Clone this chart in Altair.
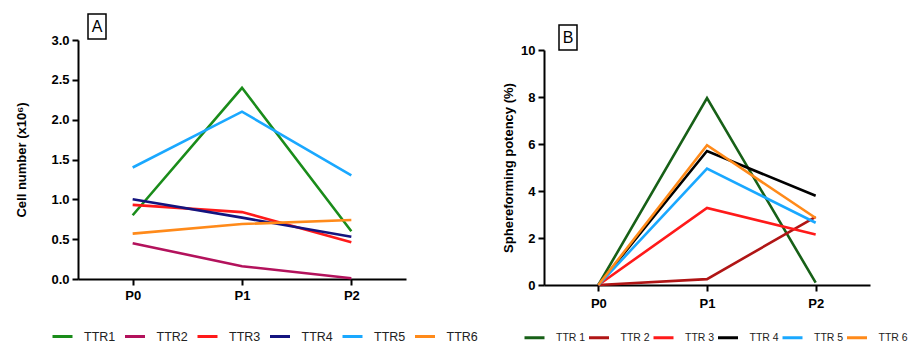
import altair as alt
import pandas as pd

passages = ["P0", "P1", "P2"]

# Panel A: cell number (x10^6)
series_a = ["TTR1", "TTR2", "TTR3", "TTR4", "TTR5", "TTR6"]
colors_a = ["#1a8c1a", "#b3125c", "#ff1a1a", "#14147f", "#1aa8ff", "#ff8a1a"]
ttr1_a = [0.80, 2.40, 0.60]
ttr2_a = [0.45, 0.16, 0.01]
ttr3_a = [0.93, 0.84, 0.46]
ttr4_a = [1.00, 0.77, 0.53]
ttr5_a = [1.40, 2.10, 1.30]
ttr6_a = [0.57, 0.69, 0.74]
yticks_a = [0.0, 0.5, 1.0, 1.5, 2.0, 2.5, 3.0]

# Panel B: sphereforming potency (%)
series_b = ["TTR 1", "TTR 2", "TTR 3", "TTR 4", "TTR 5", "TTR 6"]
colors_b = ["#176017", "#b01515", "#ff1a1a", "#000000", "#1aa8ff", "#ff8a1a"]
ttr1_b = [0.0, 7.95, 0.10]
ttr2_b = [0.0, 0.25, 2.90]
ttr3_b = [0.0, 3.28, 2.15]
ttr4_b = [0.0, 5.70, 3.80]
ttr5_b = [0.0, 4.95, 2.65]
ttr6_b = [0.0, 5.95, 2.85]
yticks_b = [0, 2, 4, 6, 8, 10]


def long_df(names, values):
    rows = []
    for name, vals in zip(names, values):
        for i, (p, v) in enumerate(zip(passages, vals)):
            rows.append({"series": name, "passage": p, "idx": i, "value": v})
    return pd.DataFrame(rows)


df_a = long_df(series_a, [ttr1_a, ttr2_a, ttr3_a, ttr4_a, ttr5_a, ttr6_a])
df_b = long_df(series_b, [ttr1_b, ttr2_b, ttr3_b, ttr4_b, ttr5_b, ttr6_b])

FONT = "Liberation Sans"


def panel(df, names, colors, yticks, ymax, ytitle, fmt, w, h, yrange, letter,
          box_x, box_y, legend_x, legend_y, label_size, col_pad, sym_size,
          title_x, xlabel_pad):
    lines = alt.Chart(df).mark_line(strokeWidth=2.6).encode(
        x=alt.X("passage:N", sort=passages,
                scale=alt.Scale(type="point", padding=0.5),
                axis=alt.Axis(title=None, labelAngle=0, labelPadding=xlabel_pad)),
        y=alt.Y("value:Q",
                scale=alt.Scale(domain=[0, ymax], nice=False, zero=True, range=yrange),
                axis=alt.Axis(values=yticks, format=fmt, title=ytitle,
                              titleX=title_x)),
        color=alt.Color("series:N",
                        scale=alt.Scale(domain=names, range=colors),
                        legend=alt.Legend(
                            orient="none", legendX=legend_x, legendY=legend_y,
                            direction="horizontal", title=None,
                            symbolType="stroke", symbolSize=sym_size,
                            symbolStrokeWidth=3, labelFont=FONT,
                            labelFontSize=label_size, labelColor="#222222",
                            labelOffset=10, columnPadding=col_pad, padding=0)),
        order=alt.Order("idx:Q"),
    )
    lab = pd.DataFrame({"label": [letter]})
    box = alt.Chart(lab).mark_rect(fill="white", stroke="black", strokeWidth=1.5).encode(
        x=alt.value(box_x), x2=alt.value(box_x + 18),
        y=alt.value(box_y), y2=alt.value(box_y + 25))
    txt = alt.Chart(lab).mark_text(font=FONT, fontSize=16, color="black").encode(
        text="label:N", x=alt.value(box_x + 9), y=alt.value(box_y + 13))
    return alt.layer(lines, box, txt).properties(width=w, height=h)


panel_a = panel(df_a, series_a, colors_a, yticks_a, 3.0, "Cell number (x10⁶)", ".1f",
                328, 239, [239, 0], "A", 10, -26, -27, 285, 12.5, 2.5, 400, -50, 4)
panel_b = panel(df_b, series_b, colors_b, yticks_b, 10, "Sphereforming potency (%)", "d",
                326, 245, [245, 10], "B", 15, -15, -21, 286, 10.5, -3.5, 400, -29, 6)

chart = alt.hconcat(panel_a, panel_b, spacing=24).resolve_scale(
    color="independent", x="independent", y="independent"
).properties(
    padding={"left": 7, "top": 5, "right": 0, "bottom": 0}
).configure_view(stroke=None).configure_axis(
    grid=False, domainColor="black", domainWidth=2, tickColor="black",
    tickWidth=2, tickSize=6, labelPadding=3, labelFont=FONT, labelFontSize=13,
    labelFontWeight="bold", labelColor="black", titleFont=FONT,
    titleFontSize=13, titleFontWeight="bold", titleColor="black"
)

chart.save("out.html", embed_options={"renderer": "svg", "actions": False})
